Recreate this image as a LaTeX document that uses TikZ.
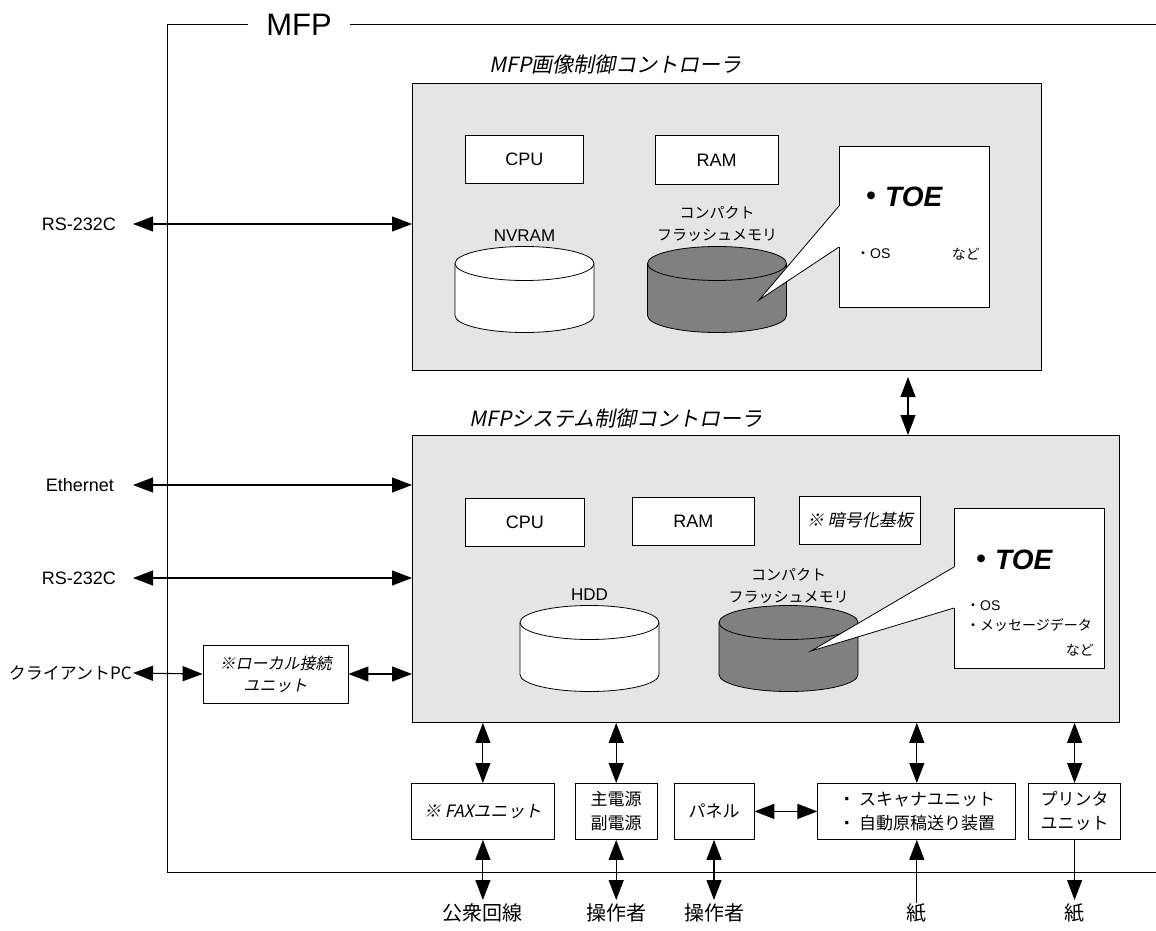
\documentclass[tikz,border=0pt]{standalone}
\usepackage{fontspec}
\setmainfont{Liberation Sans}
\newfontfamily\jp{Noto Sans CJK JP}
\newfontfamily\jpsl[FakeSlant=0.2]{Noto Sans CJK JP}
\usetikzlibrary{arrows.meta, positioning}

\begin{document}
\begin{tikzpicture}[
    x=1pt, y=1pt,
    >={Triangle[length=20pt, width=15pt]},
    ctrl/.style={rectangle, draw, fill=black!10, line width=0.9pt, anchor=north west},
    ctrltitle/.style={anchor=west, font=\fontsize{21}{24}\selectfont\jpsl},
    part/.style={rectangle, draw, fill=white, line width=0.8pt, anchor=north west, align=center, font=\fontsize{18}{22}\selectfont},
    toebox/.style={rectangle, draw, fill=white, line width=0.8pt, anchor=north west},
    toehead/.style={anchor=west, inner sep=0pt, font=\fontsize{28}{32}\selectfont\bfseries},
    toeitem/.style={inner sep=0pt, align=left, font=\fontsize{14}{20}\selectfont},
    drumlabel/.style={align=center, font=\fontsize{15}{22}\selectfont\jp},
    unit/.style={rectangle, draw, fill=white, line width=0.8pt, minimum height=56pt, align=center, font=\fontsize{17}{24}\selectfont\jp},
    portlabel/.style={anchor=east, inner sep=0pt, font=\fontsize{18}{22}\selectfont},
    extlabel/.style={anchor=north, font=\fontsize{20}{24}\selectfont\jp},
    arrow/.style={<->, line width=1.1pt},
    pics/drum/.style={code={
        \filldraw[fill=#1, line width=0.8pt] (-69.5,0) -- (-69.5,-52)
            arc[start angle=180, end angle=360, x radius=69.5, y radius=17] -- (69.5,0)
            arc[start angle=0, end angle=180, x radius=69.5, y radius=17] -- cycle;
        \draw[line width=0.8pt] (-69.5,0) arc[start angle=180, end angle=360, x radius=69.5, y radius=17];
    }},
]
\useasboundingbox (0,0) rectangle (1156,-931);

% ===== MFP FRAME =====
\node[font=\fontsize{31}{36}\selectfont, inner xsep=18pt] (mfp) at (299,-25) {MFP};
\draw[line width=1pt] (mfp.west) -- (167,-25) -- (167,-872) -- (1156,-872);
\draw[line width=1pt] (mfp.east) -- (1156,-25);

% ===== IMAGE CONTROLLER =====
\node[ctrltitle] (imgtitle) at (486,-65) {MFP画像制御コントローラ};
\node[ctrl, minimum width=629pt, minimum height=287pt] (img) at (412,-83) {};

\node[part, minimum width=118pt, minimum height=48pt] (cpuA) at (465,-135) {CPU};
\node[part, minimum width=123pt, minimum height=49pt, right=71pt of cpuA.north east, anchor=north west] (ramA) {RAM};

\pic at (524.5,-263.5) {drum=white};
\node[drumlabel, font=\fontsize{17}{21}\selectfont] (nvA) at (524.5,-236) {NVRAM};
\pic at (717,-263.5) {drum=black!50};
\node[drumlabel] (flA) at (717,-224) {コンパクト\\フラッシュメモリ};

\node[toebox, minimum width=150pt, minimum height=161pt] (toeA) at (839,-146) {};
\coordinate (tipA) at (759,-300);
\fill[white] ([yshift=-60pt]toeA.north west) -- (tipA) -- ([yshift=-101pt]toeA.north west) -- cycle;
\fill[white] ([xshift=-0.6pt, yshift=-60pt]toeA.north west) rectangle ([xshift=1pt, yshift=-101pt]toeA.north west);
\draw[line width=0.8pt] ([yshift=-60pt]toeA.north west) -- (tipA) -- ([yshift=-101pt]toeA.north west);
\node[toehead] (toeAhead) at (857,-197) {{\jp ・}\textit{TOE}};
\node[toeitem, anchor=west] (toeAos) at (856,-254) {{\jp ・}OS};
\node[toeitem, anchor=east, font=\fontsize{14}{20}\selectfont\jp] (toeAetc) at (980,-254) {など};

% ===== SYSTEM CONTROLLER =====
\node[ctrltitle] (systitle) at (466,-419) {MFPシステム制御コントローラ};
\node[ctrl, minimum width=707pt, minimum height=287pt] (sys) at (412,-435) {};

\node[part, minimum width=119pt, minimum height=48pt] (cpuB) at (465,-498) {CPU};
\node[part, minimum width=122pt, minimum height=48pt] (ramB) at (632,-497) {RAM};
\node[part, minimum width=121pt, minimum height=48pt, font=\fontsize{17}{22}\selectfont\jpsl] (keyB) at (799,-496) {※ 暗号化基板};

\pic at (589.5,-622.5) {drum=white};
\node[drumlabel, font=\fontsize{17}{21}\selectfont] (hdd) at (589.5,-595) {HDD};
\pic at (788.5,-622.5) {drum=black!50};
\node[drumlabel] (flB) at (788.5,-586) {コンパクト\\フラッシュメモリ};

\node[toebox, minimum width=150pt, minimum height=160pt] (toeB) at (954,-508) {};
\coordinate (tipB) at (811,-651);
\fill[white] ([yshift=-59pt]toeB.north west) -- (tipB) -- ([yshift=-100pt]toeB.north west) -- cycle;
\fill[white] ([xshift=-0.6pt, yshift=-59pt]toeB.north west) rectangle ([xshift=1pt, yshift=-100pt]toeB.north west);
\draw[line width=0.8pt] ([yshift=-59pt]toeB.north west) -- (tipB) -- ([yshift=-100pt]toeB.north west);
\node[toehead] (toeBhead) at (967,-560) {{\jp ・}\textit{TOE}};
\node[toeitem, anchor=west] (toeBlist) at (966,-616) {{\jp ・}OS\\{\jp ・メッセージデータ}};
\node[toeitem, anchor=east, font=\fontsize{14}{20}\selectfont\jp] (toeBetc) at (1094,-650) {など};

% ===== LINK BETWEEN CONTROLLERS =====
\coordinate (bus) at (908,-377);
\draw[arrow] (bus) -- (bus |- sys.north);

% ===== EXTERNAL PORTS =====
\node[portlabel] (rsA) at (116,-224) {RS-232C};
\node[portlabel] (eth) at (114,-485) {Ethernet};
\node[portlabel] (rsB) at (116,-578) {RS-232C};
\node[portlabel, font=\fontsize{17}{22}\selectfont\jp] (client) at (132,-673) {クライアントPC};
\node[unit, minimum width=145pt, minimum height=58pt, font=\fontsize{16}{22}\selectfont\jpsl] (local) at (275.5,-674) {※ローカル接続\\ユニット};

\draw[arrow] ([xshift=17pt]rsA.east) -- (rsA.east -| img.west);
\draw[arrow] ([xshift=19pt]eth.east) -- (eth.east -| sys.west);
\draw[arrow] ([xshift=17pt]rsB.east) -- (rsB.east -| sys.west);
\draw[arrow] ([xshift=1pt]client.east) -- (local.west);
\draw[arrow] (local.east) -- (local.east -| sys.west);

% ===== UNITS =====
\node[unit, minimum width=143pt, anchor=north west, font=\fontsize{17}{24}\selectfont\jpsl] (fax) at (411,-783) {※ FAXユニット};
\node[unit, minimum width=82pt, right=20pt of fax] (power) {主電源\\副電源};
\node[unit, minimum width=80pt, right=16pt of power] (panel) {パネル};
\node[unit, minimum width=198pt, right=63pt of panel, align=left] (scan) {・ スキャナユニット\\・ 自動原稿送り装置};
\node[unit, minimum width=92pt, right=12pt of scan] (printer) {プリンタ\\ユニット};

\draw[arrow] (fax.north) -- (fax.north |- sys.south);
\draw[arrow] (power.north) -- (power.north |- sys.south);
\draw[arrow] (scan.north) -- (scan.north |- sys.south);
\draw[arrow] (printer.north) -- (printer.north |- sys.south);
\draw[arrow] (panel.east) -- (scan.west);

% ===== OUTSIDE =====
\node[extlabel] (phone) at (fax.south |- 0,-900) {公衆回線};
\node[extlabel] (userA) at (power.south |- 0,-900) {操作者};
\node[extlabel] (userB) at (panel.south |- 0,-900) {操作者};
\node[extlabel] (paperin) at (scan.south |- 0,-900) {紙};
\node[extlabel] (paperout) at (printer.south |- 0,-900) {紙};

\draw[arrow] (fax.south) -- (phone.north);
\draw[arrow] (power.south) -- (userA.north);
\draw[arrow] (panel.south) -- (userB.north);
\draw[->, line width=1.1pt] ([yshift=-3pt]paperin.north) -- (scan.south);
\draw[->, line width=1.1pt] (printer.south) -- (paperout.north);

\end{tikzpicture}
\end{document}
